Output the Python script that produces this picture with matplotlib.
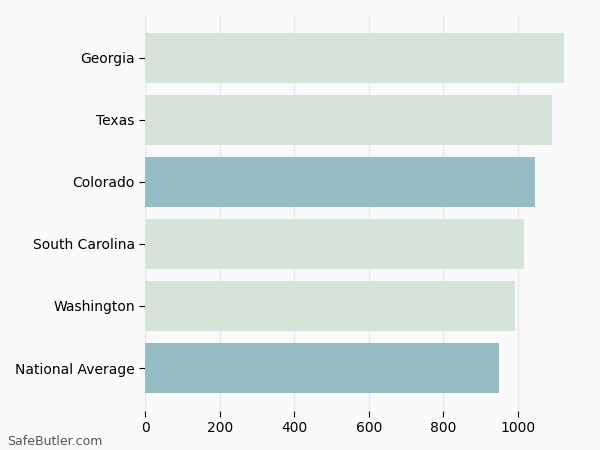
import matplotlib
matplotlib.use("Agg")
import matplotlib.pyplot as plt

# Data
states = ["Georgia", "Texas", "Colorado", "South Carolina", "Washington", "National Average"]
premiums = [1124, 1092, 1047, 1017, 993, 950]
highlight = [False, False, True, False, False, True]

light_color = "#d5e3d9"
dark_color = "#97bcc4"
bg_color = "#fafafd"

fig = plt.figure(figsize=(6, 4.5), dpi=100, facecolor=bg_color)
ax = fig.add_axes([0.242, 0.087, 0.733, 0.88])
ax.set_facecolor(bg_color)

colors = [dark_color if h else light_color for h in highlight]
ypos = list(range(len(states)))[::-1]
ax.barh(ypos, premiums, height=0.8, color=colors, zorder=2)

ax.set_yticks(ypos)
ax.set_yticklabels(states, fontsize=10)
ax.set_xticks([0, 200, 400, 600, 800, 1000])
ax.tick_params(axis="x", labelsize=10, length=4)
ax.tick_params(axis="y", length=4)

ax.xaxis.grid(True, color="#e8e8ec", linewidth=1, zorder=0)
ax.set_axisbelow(True)
for s in ax.spines.values():
    s.set_visible(False)

fig.text(0.012, 0.012, "SafeButler.com", fontsize=9, color="#555555")

fig.savefig("out.png", dpi=100, facecolor=bg_color)
